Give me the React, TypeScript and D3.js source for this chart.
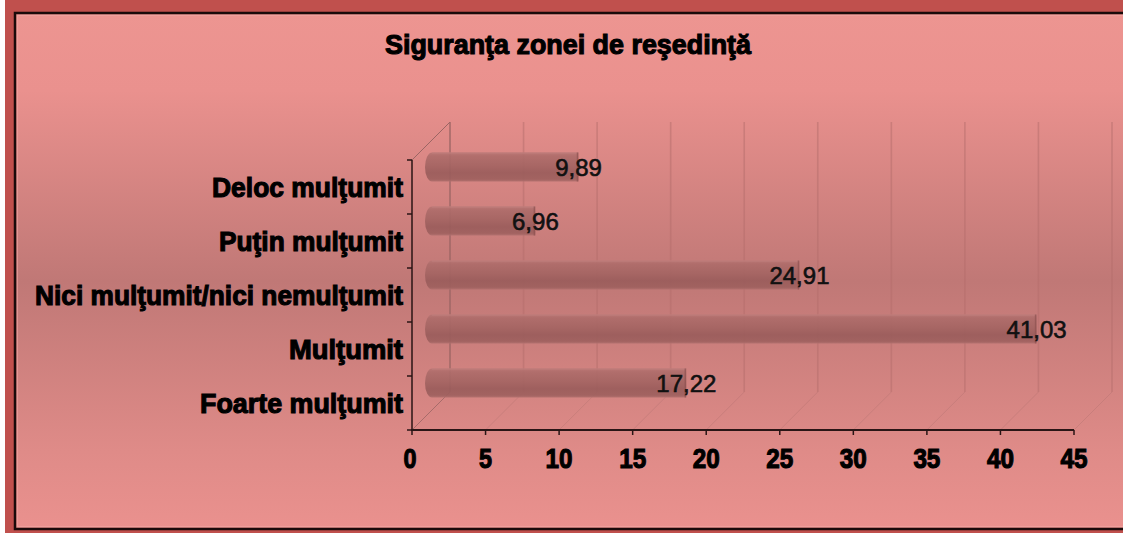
import React from "react";
import * as d3 from "d3";

const title = "Siguranţa zonei de reşedinţă";
const categories = [
  "Deloc mulţumit",
  "Puţin mulţumit",
  "Nici mulţumit/nici nemulţumit",
  "Mulţumit",
  "Foarte mulţumit",
];
const values = [9.89, 6.96, 24.91, 41.03, 17.22];
const valueLabels = ["9,89", "6,96", "24,91", "41,03", "17,22"];
const xTicks = [0, 5, 10, 15, 20, 25, 30, 35, 40, 45];

const W = 1123;
const H = 533;
const DEPTH = 38; // 3D depth offset
const BAR_OFF = 21;

export default function App() {
  const x = d3.scaleLinear().domain([0, 45]).range([412, 1074]);
  const y = d3.scaleBand<string>().domain(categories).range([160, 430]);
  const bw = y.bandwidth();
  const barH = 29;
  const font = "'Liberation Sans', Arial, sans-serif";

  const labelWidths: Record<string, number> = {
    "Deloc mulţumit": 191,
    "Puţin mulţumit": 184,
    "Nici mulţumit/nici nemulţumit": 368,
    "Mulţumit": 114,
    "Foarte mulţumit": 203,
  };

  return (
    <svg
      width={W}
      height={H}
      style={{ position: "absolute", left: 0, top: 0 }}
      viewBox={`0 0 ${W} ${H}`}
    >
      <defs>
        <linearGradient id="bg" x1="0" y1="0" x2="0" y2="1">
          <stop offset="0%" stopColor="#ED9591" />
          <stop offset="15%" stopColor="#EA918E" />
          <stop offset="52%" stopColor="#C07876" />
          <stop offset="85%" stopColor="#DF8B88" />
          <stop offset="100%" stopColor="#EA918E" />
        </linearGradient>
        <linearGradient id="bar" x1="0" y1="0" x2="0" y2="1">
          <stop offset="0%" stopColor="#B97674" />
          <stop offset="12%" stopColor="#AE6C6A" />
          <stop offset="45%" stopColor="#A46462" />
          <stop offset="70%" stopColor="#9A5C5B" />
          <stop offset="92%" stopColor="#9E605E" />
          <stop offset="100%" stopColor="#B06F6D" />
        </linearGradient>
      </defs>

      {/* outer frame */}
      <rect x={0} y={0} width={W} height={H} fill="#ffffff" />
      <rect x={5} y={0} width={W - 5} height={H} fill="#C0504D" />
      <rect x={15} y={12.5} width={W - 15} height={516.5} fill="url(#bg)" />
      <path
        d={`M${W + 5},13 H15 V529 H${W + 5}`}
        fill="none"
        stroke="#1a0a0a"
        strokeWidth={2.5}
      />
      <path
        d={`M${W + 5},15.5 H17.5 V526.5 H${W + 5}`}
        fill="none"
        stroke="#F2A8A5"
        strokeWidth={1}
        opacity={0.6}
      />

      {/* title */}
      <text
        x={568}
        y={54}
        textAnchor="middle"
        fontFamily={font}
        fontWeight="bold"
        fontSize={27}
        fill="#000"
        stroke="#000"
        strokeWidth={1.1}
        textLength={366}
        lengthAdjust="spacingAndGlyphs"
      >
        {title}
      </text>

      {/* back wall gridlines */}
      {xTicks.map((t) => (
        <line
          key={"bg" + t}
          x1={x(t) + DEPTH}
          x2={x(t) + DEPTH}
          y1={122}
          y2={430 - DEPTH}
          stroke={t === 0 ? "#9C6664" : "#B56E6C"}
          strokeWidth={t === 0 ? 1.5 : 1.6}
          opacity={t === 0 ? 0.9 : 0.5}
        />
      ))}
      {/* floor diagonals */}
      {xTicks.map((t) => (
        <line
          key={"fd" + t}
          x1={x(t)}
          x2={x(t) + DEPTH}
          y1={430}
          y2={430 - DEPTH}
          stroke={t === 0 ? "#9C6664" : "#B47371"}
          strokeWidth={1}
          opacity={t === 0 ? 0.8 : 0.4}
        />
      ))}
      {/* left wall top diagonal */}
      <line
        x1={x(0)}
        y1={160}
        x2={x(0) + DEPTH}
        y2={122}
        stroke="#9C6664"
        strokeWidth={1}
      />

      {/* bars */}
      {categories.map((c, i) => {
        const cy = (y(c) as number) + bw / 2 - 20;
        const xl = x(0) + 13;
        const x1 = x(values[i]) + BAR_OFF;
        const top = cy - barH / 2;
        const rx = 7;
        const d = `M${xl + rx},${top} H${x1} V${top + barH} H${xl + rx} A${rx},${barH / 2} 0 0 1 ${xl + rx},${top} Z`;
        return (
          <g key={"bar" + i}>
            <path d={d} fill="url(#bar)" opacity={0.92} />
            <line
              x1={xl + rx}
              x2={x1}
              y1={top + 0.5}
              y2={top + 0.5}
              stroke="#C07E7C"
              strokeWidth={1}
            />
            <line
              x1={x1 - 1}
              x2={x1 - 1}
              y1={top}
              y2={top + barH}
              stroke="#8E5251"
              strokeWidth={1.5}
              opacity={0.7}
            />
          </g>
        );
      })}

      {/* value labels */}
      {categories.map((c, i) => {
        const cy = (y(c) as number) + bw / 2 - 20;
        return (
          <text
            key={"vl" + i}
            x={x(values[i]) + BAR_OFF}
            y={cy + 8.5}
            textAnchor="middle"
            fontFamily={font}
            fontSize={24}
            fill="#111"
            stroke="#111"
            strokeWidth={0.6}
          >
            {valueLabels[i]}
          </text>
        );
      })}

      {/* axes */}
      <line x1={x(0)} x2={x(0)} y1={160} y2={431} stroke="#2a1515" strokeWidth={1.5} />
      {[...categories.map((c) => y(c) as number), 430].map((v, i) => (
        <line key={"yt" + i} x1={x(0) - 5} x2={x(0)} y1={v} y2={v} stroke="#2a1515" strokeWidth={1.5} />
      ))}
      <line x1={x(0) - 1} x2={x(45)} y1={430} y2={430} stroke="#2a1515" strokeWidth={2} />
      {xTicks.map((t) => (
        <line key={"xt" + t} x1={x(t)} x2={x(t)} y1={430} y2={435} stroke="#2a1515" strokeWidth={1.5} />
      ))}

      {/* x tick labels */}
      {xTicks.map((t) => (
        <text
          key={"xl" + t}
          x={x(t) + (t === 0 ? -2 : 0)}
          y={468}
          textAnchor="middle"
          fontFamily={font}
          fontWeight="bold"
          fontSize={27}
          fill="#000"
          stroke="#000"
          strokeWidth={1.1}
          textLength={t < 10 ? 13 : 27}
          lengthAdjust="spacingAndGlyphs"
        >
          {t}
        </text>
      ))}

      {/* category labels */}
      {categories.map((c) => (
        <text
          key={"cl" + c}
          x={403}
          y={(y(c) as number) + bw / 2 + 10}
          textAnchor="end"
          fontFamily={font}
          fontWeight="bold"
          fontSize={27}
          fill="#000"
          stroke="#000"
          strokeWidth={1.1}
          textLength={labelWidths[c]}
          lengthAdjust="spacingAndGlyphs"
        >
          {c}
        </text>
      ))}
    </svg>
  );
}
